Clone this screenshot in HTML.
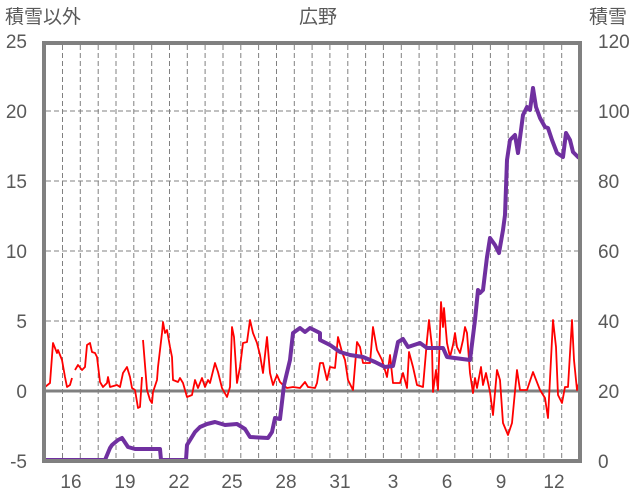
<!DOCTYPE html>
<html><head><meta charset="utf-8"><style>
html,body{margin:0;padding:0;background:#fff;}
svg{display:block;}
text{font-family:"Liberation Sans","Noto Sans CJK JP",sans-serif;fill:#595959;font-size:19px;}
</style></head><body>
<svg width="636" height="501" viewBox="0 0 636 501" xmlns="http://www.w3.org/2000/svg">
<g stroke="#808080" stroke-width="1" stroke-dasharray="5,3" fill="none">
<path d="M46 111H578M46 181H578M46 251H578M46 321H578"/>
<g id="v">
<path d="M62.5 45V459M80.3 45V459M98.2 45V459M116 45V459M133.8 45V459M151.7 45V459M169.5 45V459M187.3 45V459M205.1 45V459M223 45V459M240.8 45V459M258.6 45V459M276.5 45V459M294.3 45V459M312.1 45V459M329.9 45V459M347.8 45V459M365.6 45V459M383.4 45V459M401.3 45V459M419.1 45V459M436.9 45V459M454.8 45V459M472.6 45V459M490.4 45V459M508.2 45V459M526.1 45V459M543.9 45V459M561.7 45V459"/>
</g>
</g>
<line x1="44" y1="391" x2="580" y2="391" stroke="#808080" stroke-width="3"/>
<polyline fill="none" stroke="#ff0000" stroke-width="1.8" stroke-linejoin="round" points="45,387 50,383 53,343 57,353 58,350 62,360 65,377 67,387 70,385 72,378"/>
<polyline fill="none" stroke="#ff0000" stroke-width="1.8" stroke-linejoin="round" points="75,370 78,365 82,370 85,367 87,345 90,343 92,352 95,353 97,357 100,382 103,387 107,383 108,377 110,387 117,385 120,387 123,373 127,367 130,377 132,388 135,390 138,408 140,407 142,377"/>
<polyline fill="none" stroke="#ff0000" stroke-width="1.8" stroke-linejoin="round" points="143,340 147,390 150,400 152,403 153,392 157,380 158,367 162,333 163,322 165,333 167,330 170,347 172,357 173,380 178,382 180,378 183,383 187,397 192,395 195,380 198,388 202,378 205,387 208,380 210,383 215,363 218,372 222,388 227,397 230,387 232,327 234,337 237,383 240,367 243,343 247,342 250,320 253,333 257,343 260,355 263,373 267,337 270,373 273,385 277,375 280,382 283,385 287,388 293,387 300,388 305,382 308,387 315,388 317,383 320,363 323,363 327,380 330,367 335,368 338,337 342,352 345,360 348,380 353,390 357,342 360,347 363,363 370,363 373,327 377,350 382,360 387,377 390,355 393,383 400,383 403,373 407,388 409,352 413,367 417,385 423,387 427,340 429,320 432,347 433,392 436,370 438,390 441,302 443,327 444,308 447,343 450,357 453,345 455,333 457,347 460,353 463,340 465,327 467,333 470,373 473,393 475,378 477,388 481,367 483,385 486,373 490,392 493,415 497,370 500,380 503,423 508,435 512,423 517,370 520,390 527,390 533,372 540,390 545,398 548,418 553,320 556,347 558,395 562,403 565,387 568,387 572,320 574,360 577,390 579,383"/>
<polyline fill="none" stroke="#7030a0" stroke-width="4" stroke-linejoin="round" points="46,460 105,460 110,448 112,445 118,440 122,438 128,447 135,449 160,449 161,460 186,460 187,445 195,432 200,427 207,424 215,422 225,425 237,424 245,429 250,437 268,438 272,432 275,418 280,419 284,385 290,360 293,333 300,328 305,332 310,328 320,333 320,340 330,345 340,352 350,355 363,357 375,362 385,367 393,366 398,342 403,339 408,347 420,343 427,348 443,348 447,357 470,360 475,320 478,290 480,293 483,290 487,257 490,238 495,245 499,253 503,230 505,215 507,160 510,140 515,135 518,153 523,115 527,107 530,110 533,88 536,107 540,118 545,127 548,128 552,140 557,153 563,157 566,133 570,140 573,152 579,158"/>
<path d="M44 43H580V461H44Z" fill="none" stroke="#808080" stroke-width="4"/>
<text x="5" y="23">積雪以外</text>
<text x="318" y="23" text-anchor="middle">広野</text>
<text x="589" y="23">積雪</text>
<g text-anchor="end">
<text x="27" y="48">25</text><text x="27" y="118">20</text><text x="27" y="188">15</text><text x="27" y="258">10</text><text x="27" y="328">5</text><text x="27" y="398">0</text><text x="27" y="468">-5</text>
</g>
<g>
<text x="598" y="48">120</text><text x="598" y="118">100</text><text x="598" y="188">80</text><text x="598" y="258">60</text><text x="598" y="328">40</text><text x="598" y="398">20</text><text x="598" y="468">0</text>
</g>
<g text-anchor="middle">
<text x="71" y="488">16</text><text x="125" y="488">19</text><text x="179" y="488">22</text><text x="232" y="488">25</text><text x="286" y="488">28</text><text x="340" y="488">31</text><text x="393" y="488">3</text><text x="447" y="488">6</text><text x="501" y="488">9</text><text x="554" y="488">12</text>
</g>
</svg>
</body></html>
